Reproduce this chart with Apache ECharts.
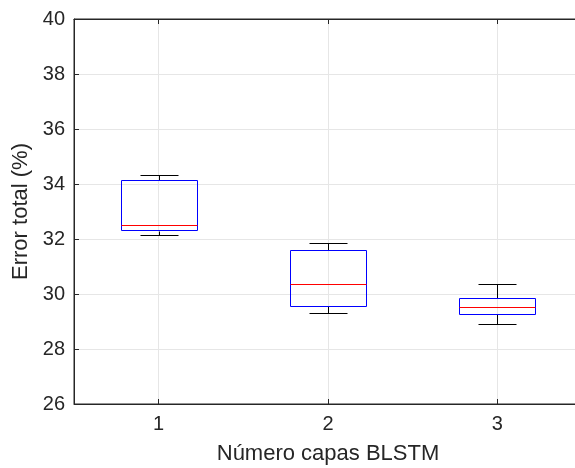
<!DOCTYPE html>
<html>
<head>
<meta charset="utf-8">
<script src="https://cdn.jsdelivr.net/npm/echarts@6/dist/echarts.min.js"></script>
<style>
  html, body { margin: 0; padding: 0; background: #ffffff; }
  #chart { width: 575px; height: 468px; }
</style>
</head>
<body>
<div id="chart"></div>
<script>
// datos (error total %, por número de capas)
const categories = ['1', '2', '3'];
const whiskerLow = [32.14, 29.32, 28.91];
const q1 = [32.30, 29.57, 29.27];
const median = [32.50, 30.36, 29.53];
const q3 = [34.13, 31.59, 29.85];
const whiskerHigh = [34.31, 31.84, 30.35];
const yTicks = [26, 28, 30, 32, 34, 36, 38, 40];

const axisColor = '#262626';
const font = 'Liberation Sans, Arial, Helvetica, sans-serif';

const boxData = categories.map((c, i) => [i, whiskerLow[i], q1[i], median[i], q3[i], whiskerHigh[i]]);

const px = v => Math.round(v) + 0.5;

function renderBox(params, api) {
  const idx = api.value(0);
  const bw = api.size([1, 0])[0];
  const half = bw * 0.225;
  const cap = bw * 0.1125;
  const cx = api.coord([idx, 0])[0];
  const yLo = api.coord([idx, api.value(1)])[1];
  const yQ1 = api.coord([idx, api.value(2)])[1];
  const yMed = api.coord([idx, api.value(3)])[1];
  const yQ3 = api.coord([idx, api.value(4)])[1];
  const yHi = api.coord([idx, api.value(5)])[1];
  const black = { stroke: '#000000', lineWidth: 1, fill: null };
  return {
    type: 'group',
    children: [
      { type: 'line', shape: { x1: px(cx), y1: px(yHi), x2: px(cx), y2: px(yQ3) }, style: black },
      { type: 'line', shape: { x1: px(cx), y1: px(yQ1), x2: px(cx), y2: px(yLo) }, style: black },
      { type: 'line', shape: { x1: px(cx - cap), y1: px(yHi), x2: px(cx + cap), y2: px(yHi) }, style: black },
      { type: 'line', shape: { x1: px(cx - cap), y1: px(yLo), x2: px(cx + cap), y2: px(yLo) }, style: black },
      {
        type: 'rect',
        shape: { x: px(cx - half), y: px(yQ3), width: Math.round(2 * half), height: Math.round(yQ1 - yQ3) },
        style: { stroke: '#0000ff', lineWidth: 1, fill: null }
      },
      { type: 'line', shape: { x1: px(cx - half), y1: px(yMed), x2: px(cx + half), y2: px(yMed) }, style: { stroke: '#ff0000', lineWidth: 1 } }
    ]
  };
}

const chart = echarts.init(document.getElementById('chart'));
chart.setOption({
  animation: false,
  backgroundColor: '#ffffff',
  textStyle: { fontFamily: font },
  grid: {
    left: 74, top: 19, width: 508, height: 385,
    outerBoundsMode: 'none',
    containLabel: false,
    show: true, borderColor: axisColor, borderWidth: 1, backgroundColor: '#ffffff'
  },
  xAxis: [{
    type: 'category',
    data: categories,
    boundaryGap: true,
    name: 'Número capas BLSTM',
    nameLocation: 'middle',
    nameGap: 39,
    nameTextStyle: { fontSize: 22, color: axisColor, fontFamily: font },
    axisLine: { show: true, lineStyle: { color: axisColor, width: 1 } },
    axisTick: { show: true, inside: true, length: 5, alignWithLabel: true, lineStyle: { color: axisColor } },
    axisLabel: { fontSize: 20, color: axisColor, margin: 10, fontFamily: font },
    splitLine: { show: true, alignWithLabel: true, lineStyle: { color: '#e6e6e6', width: 1 } }
  }, {
    type: 'category',
    data: categories,
    position: 'top',
    boundaryGap: true,
    axisLine: { show: true, lineStyle: { color: axisColor, width: 1 } },
    axisTick: { show: true, inside: true, length: 5, alignWithLabel: true, lineStyle: { color: axisColor } },
    axisLabel: { show: false },
    splitLine: { show: false }
  }],
  yAxis: {
    type: 'value',
    min: yTicks[0],
    max: yTicks[yTicks.length - 1],
    interval: 2,
    name: 'Error total (%)',
    nameLocation: 'middle',
    nameGap: 39,
    nameTextStyle: { fontSize: 22, color: axisColor, fontFamily: font },
    axisLine: { show: true, lineStyle: { color: axisColor, width: 1 } },
    axisTick: { show: true, inside: true, length: 5, lineStyle: { color: axisColor } },
    axisLabel: { fontSize: 20, color: axisColor, margin: 9, fontFamily: font },
    splitLine: { show: true, lineStyle: { color: '#e6e6e6', width: 1 } }
  },
  series: [{
    type: 'custom',
    xAxisIndex: 0,
    renderItem: renderBox,
    encode: { x: 0, y: [1, 2, 3, 4, 5] },
    data: boxData,
    z: 10
  }]
});
</script>
</body>
</html>
